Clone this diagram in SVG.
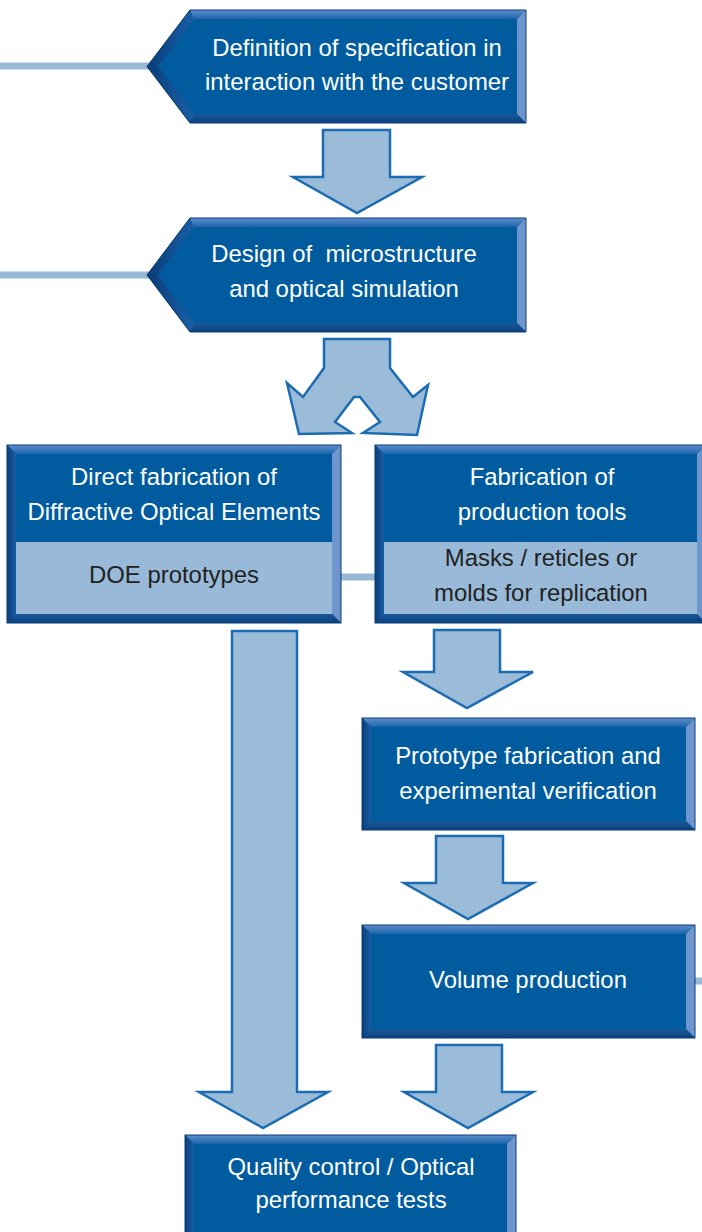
<svg xmlns="http://www.w3.org/2000/svg" width="702" height="1232" viewBox="0 0 702 1232">
<defs>
<linearGradient id="gTop" x1="0" y1="0" x2="0" y2="1"><stop offset="0" stop-color="#5e8fcc"/><stop offset="1" stop-color="#1c64aa"/></linearGradient>
<linearGradient id="gLeft" x1="0" y1="0" x2="1" y2="0"><stop offset="0" stop-color="#0a3d78"/><stop offset="1" stop-color="#1a5ea6"/></linearGradient>
<linearGradient id="gBot" x1="0" y1="0" x2="0" y2="1"><stop offset="0" stop-color="#1a5799"/><stop offset="1" stop-color="#0b427f"/></linearGradient>
<style>
.face{fill:#005b9f}
.light{fill:#98bad8}
.top{fill:url(#gTop)}
.left{fill:url(#gLeft)}
.right{fill:#6e95cd}
.bot{fill:url(#gBot)}
.edge{fill:none;stroke:#0a3d74;stroke-width:1}
.arrow{fill:#9bbcd9;stroke:#1c6cb3;stroke-width:2.5;stroke-linejoin:miter}
.line{stroke:#97b9d6;stroke-width:7;fill:none}
text{font-family:"Liberation Sans",Arial,sans-serif;font-size:23.9px;text-anchor:middle}
.w{fill:#ffffff}
.d{fill:#222222}
</style>
</defs>

<g id="connectors">
<line class="line" x1="0" y1="66" x2="150" y2="66"/>
<line class="line" x1="0" y1="275" x2="150" y2="275"/>
<line class="line" x1="340" y1="577" x2="376" y2="577"/>
<line class="line" x1="694" y1="981" x2="702" y2="981"/>
<polygon class="arrow" points="323,130 390,130 390,177 422,177 357,213 293,177 323,177"/>
<polygon class="arrow" points="324,339 390,339 390,368 413,397 428,385 417,435 363,433 380,422 360,397 354,397 335,422 352,433 299,434 287,383 303,397 324,368"/>
<polygon class="arrow" points="232,631 297,631 297,1092 328,1092 263,1128 199,1092 232,1092"/>
<polygon class="arrow" points="434,630 500,630 500,672 533,672 467,708 403,672 434,672"/>
<polygon class="arrow" points="436,836 503,836 503,883 533,883 468,919 404,883 436,883"/>
<polygon class="arrow" points="436,1045 502,1045 502,1092 533,1092 468,1128 404,1092 436,1092"/>
</g>

<g id="node-definition">
<polygon class="face" points="190,10 526,10 526,123 190,123 147,66.5"/>
<polygon class="top" points="190,10 526,10 517,19 194,19"/>
<polygon class="right" points="526,10 526,123 517,114 517,19"/>
<polygon class="bot" points="526,123 190,123 194,114 517,114"/>
<polygon class="left" points="190,10 194,19 158,66.5 147,66.5"/>
<polygon class="left" points="147,66.5 158,66.5 194,114 190,123"/>
<polygon class="edge" points="190,10 526,10 526,123 190,123 147,66.5"/>
<text class="w" x="357" y="56">Definition of specification in</text>
<text class="w" x="357" y="90">interaction with the customer</text>
</g>

<g id="node-design">
<polygon class="face" points="190,218 526,218 526,332 190,332 147,275"/>
<polygon class="top" points="190,218 526,218 517,227 194,227"/>
<polygon class="right" points="526,218 526,332 517,323 517,227"/>
<polygon class="bot" points="526,332 190,332 194,323 517,323"/>
<polygon class="left" points="190,218 194,227 158,275 147,275"/>
<polygon class="left" points="147,275 158,275 194,323 190,332"/>
<polygon class="edge" points="190,218 526,218 526,332 190,332 147,275"/>
<text class="w" x="344" y="262" xml:space="preserve">Design of  microstructure</text>
<text class="w" x="344" y="297">and optical simulation</text>
</g>

<g id="node-direct">
<rect class="face" x="7" y="445" width="334" height="178"/>
<rect class="light" x="16" y="542" width="316" height="72"/>
<polygon class="top" points="7,445 341,445 332,454 16,454"/>
<polygon class="right" points="341,445 341,623 332,614 332,454"/>
<polygon class="bot" points="341,623 7,623 16,614 332,614"/>
<polygon class="left" points="7,445 16,454 16,614 7,623"/>
<rect class="edge" x="7" y="445" width="334" height="178"/>
<text class="w" x="174" y="485">Direct fabrication of</text>
<text class="w" x="174" y="520">Diffractive Optical Elements</text>
<text class="d" x="174" y="583">DOE prototypes</text>
</g>

<g id="node-tools">
<rect class="face" x="375" y="445" width="331" height="178"/>
<rect class="light" x="384" y="542" width="313" height="72"/>
<polygon class="top" points="375,445 706,445 697,454 384,454"/>
<polygon class="right" points="706,445 706,623 697,614 697,454"/>
<polygon class="bot" points="706,623 375,623 384,614 697,614"/>
<polygon class="left" points="375,445 384,454 384,614 375,623"/>
<rect class="edge" x="375" y="445" width="331" height="178"/>
<text class="w" x="542" y="485">Fabrication of</text>
<text class="w" x="542" y="520">production tools</text>
<text class="d" x="541" y="566">Masks / reticles or</text>
<text class="d" x="541" y="601">molds for replication</text>
</g>

<g id="node-prototype">
<rect class="face" x="362" y="718" width="333" height="112"/>
<polygon class="top" points="362,718 695,718 686,727 371,727"/>
<polygon class="right" points="695,718 695,830 686,821 686,727"/>
<polygon class="bot" points="695,830 362,830 371,821 686,821"/>
<polygon class="left" points="362,718 371,727 371,821 362,830"/>
<rect class="edge" x="362" y="718" width="333" height="112"/>
<text class="w" x="528" y="764">Prototype fabrication and</text>
<text class="w" x="528" y="799">experimental verification</text>
</g>

<g id="node-volume">
<rect class="face" x="362" y="925" width="333" height="113"/>
<polygon class="top" points="362,925 695,925 686,934 371,934"/>
<polygon class="right" points="695,925 695,1038 686,1029 686,934"/>
<polygon class="bot" points="695,1038 362,1038 371,1029 686,1029"/>
<polygon class="left" points="362,925 371,934 371,1029 362,1038"/>
<rect class="edge" x="362" y="925" width="333" height="113"/>
<text class="w" x="528" y="988">Volume production</text>
</g>

<g id="node-quality">
<rect class="face" x="185" y="1135" width="331" height="112"/>
<polygon class="top" points="185,1135 516,1135 507,1144 194,1144"/>
<polygon class="right" points="516,1135 516,1247 507,1238 507,1144"/>
<polygon class="left" points="185,1135 194,1144 194,1238 185,1247"/>
<rect class="edge" x="185" y="1135" width="331" height="112"/>
<text class="w" x="351" y="1175">Quality control / Optical</text>
<text class="w" x="351" y="1208">performance tests</text>
</g>
</svg>
